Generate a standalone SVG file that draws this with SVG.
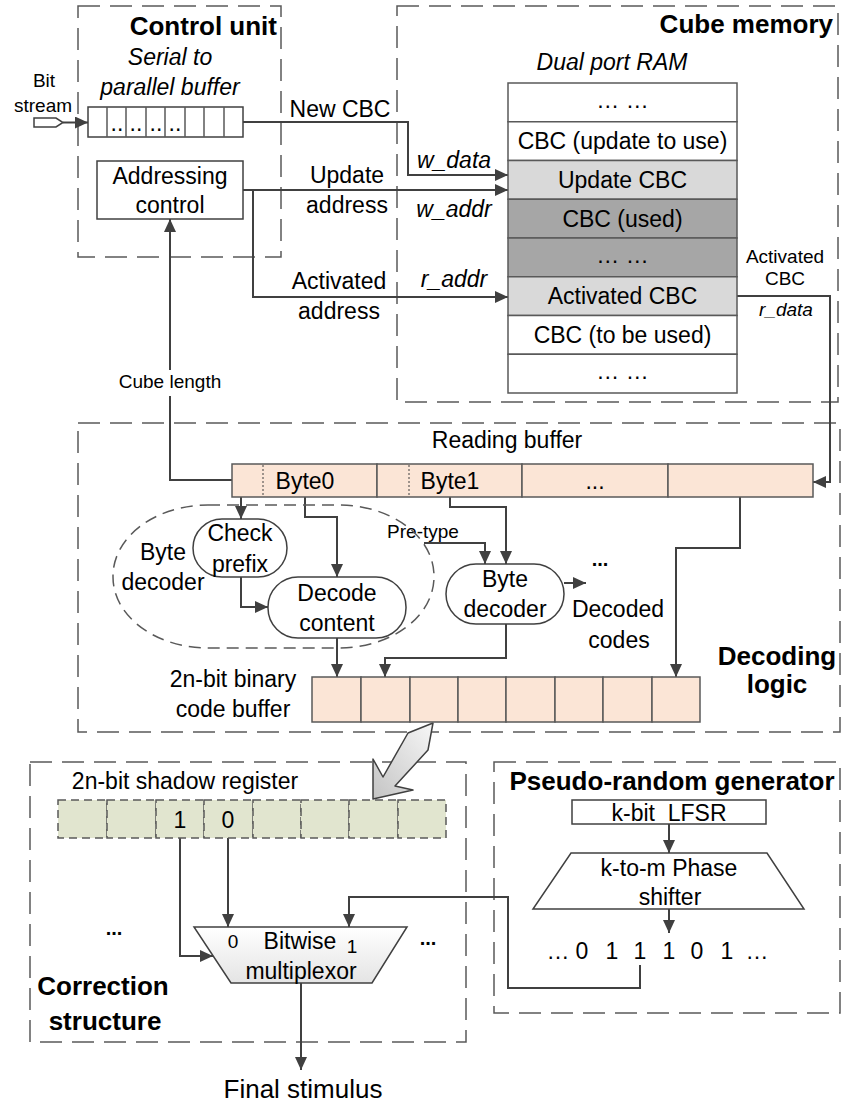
<svg xmlns="http://www.w3.org/2000/svg" width="843" height="1107" viewBox="0 0 843 1107">
  <defs>
    <style>
      text { font-family: "Liberation Sans", Arial, sans-serif; font-size: 23px; fill: #000; text-anchor: middle; }
      .s { font-size: 19px; }
      .b { font-weight: bold; font-size: 26px; }
      .i { font-style: italic; }
      .dots { font-weight: bold; font-size: 20px; }
      .pre { white-space: pre; }
      .frame { fill: none; stroke: #595959; stroke-width: 1.5; stroke-dasharray: 22 10; }
      .shape { fill: #fff; stroke: #404040; stroke-width: 1.5; }
      .cell { fill: #fbe5d6; stroke: #595959; stroke-width: 1.5; }
      .ram { stroke: #595959; stroke-width: 1.5; }
      .ln { fill: none; stroke: #404040; stroke-width: 2; }
      .arr { marker-end: url(#ah); }
      .sh { fill: #e1e5cf; stroke: #595959; stroke-width: 1.5; stroke-dasharray: 8 5; }
    </style>
    <marker id="ah" viewBox="0 0 13 12" refX="13" refY="6" markerWidth="13" markerHeight="12" markerUnits="userSpaceOnUse" orient="auto">
      <path d="M0,0 L13,6 L0,12 z" fill="#404040"/>
    </marker>
    <linearGradient id="muxfill" x1="0" y1="0" x2="0" y2="1">
      <stop offset="0" stop-color="#ffffff"/>
      <stop offset="1" stop-color="#e4e4e4"/>
    </linearGradient>
    <linearGradient id="bigarrow" x1="1" y1="0" x2="0" y2="1">
      <stop offset="0" stop-color="#f7f7f7"/>
      <stop offset="1" stop-color="#c4c4c4"/>
    </linearGradient>
  </defs>

  <rect width="843" height="1107" fill="#fff"/>

  <!-- dashed region frames -->
  <g id="frames">
    <rect class="frame" x="78" y="6" width="203" height="251"/>
    <rect class="frame" x="397" y="6" width="441" height="396"/>
    <rect class="frame" x="78" y="423" width="762" height="309"/>
    <rect class="frame" x="30" y="762" width="436" height="280"/>
    <rect class="frame" x="494" y="762" width="346" height="251"/>
    <text class="b" x="277" y="35" style="text-anchor:end">Control unit</text>
    <text class="b" x="833" y="33" style="text-anchor:end">Cube memory</text>
    <text class="b" x="777" y="665">Decoding</text>
    <text class="b" x="777" y="693">logic</text>
    <text class="b" x="103" y="995">Correction</text>
    <text class="b" x="105" y="1030">structure</text>
    <text class="b" x="672" y="790">Pseudo-random generator</text>
  </g>

  <!-- connectors -->
  <g id="connectors">
    <path class="shape" d="M34,118 H56 L63,122.5 L56,127 H34 z"/>
    <path class="ln arr" d="M63,122.5 H88"/>
    <path class="ln arr" d="M243,122 H408 V175 H508"/>
    <path class="ln arr" d="M243,190 H508"/>
    <path class="ln arr" d="M253,190 V297 H508"/>
    <path class="ln arr" d="M232,480 H170 V219"/>
    <path class="ln arr" d="M737,296 H830 V482 H813"/>
    <path class="ln arr" d="M241,497 V519"/>
    <path class="ln arr" d="M305,497 V517 H337 V577"/>
    <path class="ln arr" d="M241,577 V607 H268"/>
    <path class="ln arr" d="M337,638 V677"/>
    <path class="ln arr" d="M450,497 V507 H506 V564"/>
    <path class="ln arr" d="M424,543 H485 V564"/>
    <path class="ln arr" d="M564,583 H586"/>
    <path class="ln arr" d="M506,624 V658 H385 V677"/>
    <path class="ln arr" d="M740,497 V548 H676 V677"/>
    <path class="ln arr" d="M180,838 V956 H213"/>
    <path class="ln arr" d="M228,838 V927"/>
    <path class="ln arr" d="M640,965 V988 H508 V897 H349 V927"/>
    <path class="ln arr" d="M301,983 V1070"/>
    <path class="ln arr" d="M669,824 V853"/>
    <path class="ln arr" d="M669,909 V933"/>
    <polygon points="433,723 428,750 395,786 413,790 373,799 373,759 383,777 408,733" fill="url(#bigarrow)" stroke="#404040" stroke-width="1.5" stroke-linejoin="round"/>
    <!-- connector labels -->
    <text x="340" y="117">New CBC</text>
    <text x="347" y="183">Update</text>
    <text x="347" y="213">address</text>
    <text x="339" y="289">Activated</text>
    <text x="339" y="319">address</text>
    <text class="i" x="454" y="168">w_data</text>
    <text class="i" x="454" y="217">w_addr</text>
    <text class="i" x="454" y="287">r_addr</text>
    <text class="s" x="44" y="87">Bit</text>
    <text class="s" x="43" y="112">stream</text>
    <text class="s" x="785" y="263">Activated</text>
    <text class="s" x="785" y="285">CBC</text>
    <text class="s i" x="786" y="316">r_data</text>
    <rect x="116" y="370" width="108" height="26" fill="#fff"/>
    <text class="s" x="170" y="388">Cube length</text>
    <text class="s" x="423" y="538">Pre-type</text>
    <text x="618" y="617">Decoded</text>
    <text x="619" y="648">codes</text>
    <text class="dots" x="600" y="566">...</text>
    <text style="font-size:26px" x="303" y="1098">Final stimulus</text>
  </g>

  <!-- serial to parallel buffer -->
  <g id="serial-buffer">
    <text class="i" x="170" y="65">Serial to</text>
    <text class="i" x="170" y="95">parallel buffer</text>
    <rect class="shape" x="88" y="107" width="155" height="30"/>
    <path class="ram" d="M107,107 V137 M126,107 V137 M146,107 V137 M165,107 V137 M185,107 V137 M204,107 V137 M224,107 V137"/>
    <g style="font-size:16px">
      <text x="117" y="131">..</text>
      <text x="136" y="131">..</text>
      <text x="156" y="131">..</text>
      <text x="175" y="131">..</text>
    </g>
  </g>

  <!-- addressing control -->
  <g id="addressing-control">
    <rect class="shape" x="97" y="161" width="146" height="58"/>
    <text x="170" y="184">Addressing</text>
    <text x="170" y="213">control</text>
  </g>

  <!-- dual port RAM -->
  <g id="dual-port-ram">
    <text class="i" x="612" y="70">Dual port RAM</text>
    <rect class="ram" x="508" y="83" width="229" height="38.75" fill="#fff"/>
    <rect class="ram" x="508" y="121.75" width="229" height="38.75" fill="#fff"/>
    <rect class="ram" x="508" y="160.5" width="229" height="38.75" fill="#d9d9d9"/>
    <rect class="ram" x="508" y="199.25" width="229" height="38.75" fill="#a6a6a6"/>
    <rect class="ram" x="508" y="238" width="229" height="38.75" fill="#a6a6a6"/>
    <rect class="ram" x="508" y="276.75" width="229" height="38.75" fill="#d9d9d9"/>
    <rect class="ram" x="508" y="315.5" width="229" height="38.75" fill="#fff"/>
    <rect class="ram" x="508" y="354.25" width="229" height="38.75" fill="#fff"/>
    <text x="622.5" y="108">… …</text>
    <text x="622.5" y="149">CBC (update to use)</text>
    <text x="622.5" y="188">Update CBC</text>
    <text x="622.5" y="227">CBC (used)</text>
    <text x="622.5" y="263">… …</text>
    <text x="622.5" y="304">Activated CBC</text>
    <text x="622.5" y="343">CBC (to be used)</text>
    <text x="622.5" y="379">… …</text>
  </g>

  <!-- reading buffer -->
  <g id="reading-buffer">
    <text x="507" y="448">Reading buffer</text>
    <rect class="cell" x="232" y="464" width="145" height="33"/>
    <rect class="cell" x="377" y="464" width="145" height="33"/>
    <rect class="cell" x="522" y="464" width="146" height="33"/>
    <rect class="cell" x="668" y="464" width="145" height="33"/>
    <path d="M263,465 V496 M409,465 V496" stroke="#404040" stroke-width="1" stroke-dasharray="2 2"/>
    <text x="305" y="489">Byte0</text>
    <text x="450" y="489">Byte1</text>
    <text x="595" y="489">...</text>
  </g>

  <!-- byte decoder (check prefix + decode content) -->
  <g id="byte-decoder-0">
    <rect x="113" y="505" width="321" height="143" rx="95" ry="71" fill="none" stroke="#595959" stroke-width="1.5" stroke-dasharray="12 7"/>
    <text x="163" y="560">Byte</text>
    <text x="163" y="590">decoder</text>
  </g>
  <g id="check-prefix">
    <rect class="shape" x="193" y="519" width="94" height="58" rx="29"/>
    <text x="240" y="541">Check</text>
    <text x="240" y="572">prefix</text>
  </g>
  <g id="decode-content">
    <rect class="shape" x="268" y="577" width="138" height="61" rx="30"/>
    <text x="337" y="601">Decode</text>
    <text x="337" y="631">content</text>
  </g>
  <g id="byte-decoder-1">
    <rect class="shape" x="446" y="564" width="118" height="60" rx="30"/>
    <text x="505" y="587">Byte</text>
    <text x="505" y="617">decoder</text>
  </g>

  <!-- 2n-bit binary code buffer -->
  <g id="code-buffer">
    <text x="233" y="687">2n-bit binary</text>
    <text x="233" y="717">code buffer</text>
    <rect class="cell" x="312" y="677" width="49" height="45"/>
    <rect class="cell" x="361" y="677" width="49" height="45"/>
    <rect class="cell" x="410" y="677" width="48" height="45"/>
    <rect class="cell" x="458" y="677" width="48" height="45"/>
    <rect class="cell" x="506" y="677" width="49" height="45"/>
    <rect class="cell" x="555" y="677" width="48" height="45"/>
    <rect class="cell" x="603" y="677" width="49" height="45"/>
    <rect class="cell" x="652" y="677" width="48" height="45"/>
  </g>

  <!-- 2n-bit shadow register -->
  <g id="shadow-register">
    <text x="185" y="789">2n-bit shadow register</text>
    <rect x="58" y="800" width="388" height="38" fill="#e1e5cf"/>
    <rect class="sh" x="58" y="800" width="49" height="38"/>
    <rect class="sh" x="107" y="800" width="49" height="38"/>
    <rect class="sh" x="156" y="800" width="48" height="38"/>
    <rect class="sh" x="204" y="800" width="49" height="38"/>
    <rect class="sh" x="253" y="800" width="48" height="38"/>
    <rect class="sh" x="301" y="800" width="48" height="38"/>
    <rect class="sh" x="349" y="800" width="49" height="38"/>
    <rect class="sh" x="398" y="800" width="48" height="38"/>
    <text x="180" y="828">1</text>
    <text x="228" y="828">0</text>
  </g>

  <!-- bitwise multiplexor -->
  <g id="multiplexor">
    <polygon points="194,927 407,927 372,983 231,983" fill="url(#muxfill)" stroke="#404040" stroke-width="1.5"/>
    <text class="s" x="233" y="948">0</text>
    <text x="300" y="949">Bitwise</text>
    <text class="s" x="352" y="953">1</text>
    <text x="301" y="979">multiplexor</text>
    <text class="dots" x="114" y="935">...</text>
    <text class="dots" x="428" y="945">...</text>
  </g>

  <!-- pseudo-random generator -->
  <g id="lfsr">
    <rect class="shape" x="572" y="800" width="194" height="24"/>
    <text class="pre" x="669" y="821">k-bit  LFSR</text>
  </g>
  <g id="phase-shifter">
    <polygon class="shape" points="571,853 767,853 804,909 533,909"/>
    <text x="669" y="876">k-to-m Phase</text>
    <text x="670" y="905">shifter</text>
  </g>
  <g id="random-bits">
    <text x="558" y="959">…</text>
    <text x="582" y="959">0</text>
    <text x="612" y="959">1</text>
    <text x="640" y="959">1</text>
    <text x="669" y="959">1</text>
    <text x="697" y="959">0</text>
    <text x="727" y="959">1</text>
    <text x="757" y="959">…</text>
  </g>
</svg>
